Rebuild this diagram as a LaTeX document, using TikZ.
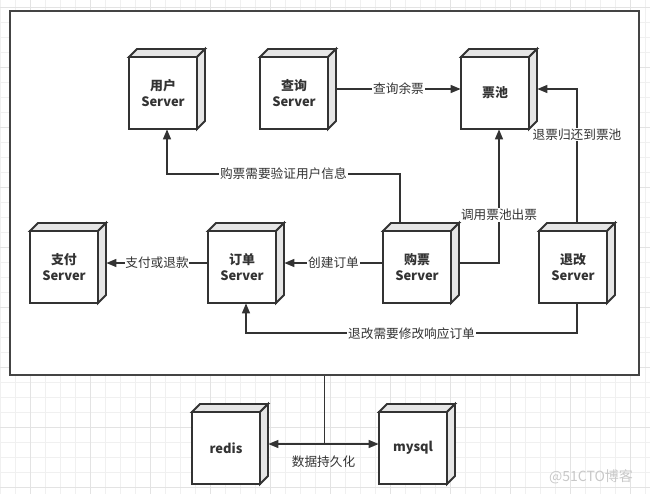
\documentclass[tikz,border=0pt]{standalone}
\usepackage{fontspec}
\setmainfont{Noto Sans CJK SC}
\usetikzlibrary{arrows.meta,calc}
\definecolor{lineC}{HTML}{333333}
\definecolor{frameC}{HTML}{444444}
\definecolor{sideC}{HTML}{E6E6E6}
\definecolor{gridMinor}{HTML}{F0F0F0}
\definecolor{gridMajor}{HTML}{E3E3E3}
\definecolor{lblC}{HTML}{333333}
\definecolor{wmC}{HTML}{C8C8C8}
\tikzset{
  gridminor/.style={draw=gridMinor,line width=0.75pt},
  gridmajor/.style={draw=gridMajor,line width=0.75pt},
  frame/.style={draw=frameC,fill=white,line width=1.5pt,minimum width=471.75pt,minimum height=273pt,inner sep=0pt},
  cubeface/.style={draw=lineC,fill=white,line width=1.4pt,line join=miter},
  cubeside/.style={draw=lineC,fill=sideC,line width=1.4pt,line join=miter},
  cubenode/.style={draw=none,minimum width=57pt,minimum height=60pt,inner sep=0pt},
  cubetext/.style={align=center,font=\fontsize{9.7pt}{12.6pt}\selectfont\bfseries,text=lineC,inner sep=0pt},
  conn/.style={draw=lineC,line width=1.4pt},
  arr/.style={conn,-{Triangle[length=7.5pt,width=5.8pt]}},
  darr/.style={conn,{Triangle[length=7.5pt,width=5.8pt]}-{Triangle[length=7.5pt,width=5.8pt]}},
  lbl/.style={fill=white,text=lblC,font=\fontsize{9.5pt}{11pt}\selectfont,inner sep=0.6pt},
  wm/.style={text=wmC,font=\fontsize{10.5pt}{12pt}\selectfont,inner sep=0pt}
}
\newcommand\cubebox[4]{%
  \filldraw[cubeface] (#2,#3) rectangle ++(68,72);
  \filldraw[cubeside] (#2,#3) -- ++(8,-8) -- ++(68,0) -- ++(-8,8) -- cycle;
  \filldraw[cubeside] (#2+68,#3) -- ++(8,-8) -- ++(0,72) -- ++(-8,8) -- cycle;
  \node[cubenode] (#1) at (#2+38,#3+32) {};
  \node[cubetext] (#1-t) at (#2+34,#3+36) {#4};
}
\begin{document}
\begin{tikzpicture}[x=0.75pt,y=-0.75pt]
\useasboundingbox (0,0) rectangle (650,494);
\clip (0,0) rectangle (650,494);
% grid
\foreach \i in {0,...,43} \draw[gridminor] (0.7+15*\i,0) -- (0.7+15*\i,494);
\foreach \i in {0,...,32} \draw[gridminor] (0,7.3+15*\i) -- (650,7.3+15*\i);
\foreach \i in {0,...,10} \draw[gridmajor] (30.7+60*\i,0) -- (30.7+60*\i,494);
\foreach \i in {0,...,8} \draw[gridmajor] (0,7.3+60*\i) -- (650,7.3+60*\i);
% frame
\node[frame] (frame) at (324.5,193) {};
% boxes
\cubebox{user}{129}{57}{用户\\Server}
\cubebox{query}{260}{57}{查询\\Server}
\cubebox{pool}{461}{57}{票池}
\cubebox{pay}{30}{231}{支付\\Server}
\cubebox{order}{208}{231}{订单\\Server}
\cubebox{buy}{383}{231}{购票\\Server}
\cubebox{refund}{539}{231}{退改\\Server}
\cubebox{redis}{192}{412}{redis}
\cubebox{mysql}{379}{412}{mysql}
% connectors
\draw[arr] (query) -- node[lbl]{查询余票} (pool);
\draw[arr] (refund.north) |- node[lbl,pos=0.33]{退票归还到票池} (pool.east);
\draw[arr] (buy.east) -| node[lbl,pos=0.68]{调用票池出票} (pool.south);
\coordinate (buyup) at ([xshift=12.75pt]buy.north west);
\draw[arr] (buyup) -- ++(0,-49) -| node[lbl,pos=0.25]{购票需要验证用户信息} (user.south);
\draw[arr] (buy.west) -- node[lbl]{创建订单} (order.east);
\draw[arr] (order.west) -- node[lbl]{支付或退款} (pay.east);
\draw[arr] (refund.south) -- ++(0,30) -| node[lbl,pos=0.25]{退改需要修改响应订单} (order.south);
\coordinate (split) at (frame.south |- redis);
\draw[conn] (frame.south) -- (split);
\draw[darr] (redis.east) -- (mysql.west);
\node[lbl,fill=none] (persist) at ($(split)+(-1,18)$) {数据持久化};
% watermark
\node[wm] (mark) at (591,477) {@51CTO博客};
\end{tikzpicture}
\end{document}
